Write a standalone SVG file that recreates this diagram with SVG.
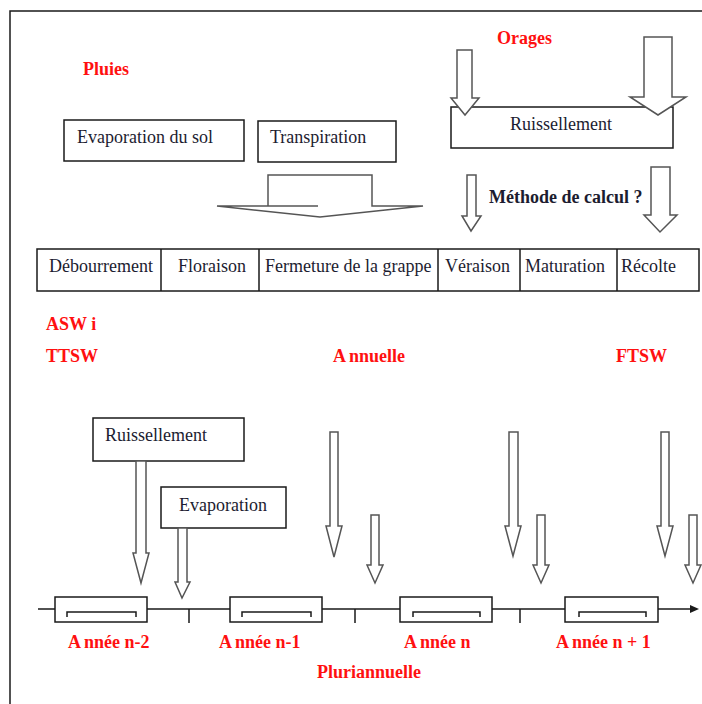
<svg xmlns="http://www.w3.org/2000/svg" width="702" height="704" viewBox="0 0 702 704">
<style>
.box{fill:#fff;stroke:#1a1a1a;stroke-width:1.5}
.arr{fill:#fff;stroke:#555;stroke-width:1.5;stroke-linejoin:miter}
.t{font-family:"Liberation Serif","Times New Roman",serif;font-size:18px;fill:#1c1c30}
.r{font-family:"Liberation Serif","Times New Roman",serif;font-size:18px;font-weight:bold;fill:#ff1010}
.b{font-family:"Liberation Serif","Times New Roman",serif;font-size:18px;font-weight:bold;fill:#1c1c30}
.ln{fill:none;stroke:#1a1a1a;stroke-width:1.5}
</style>
<rect width="702" height="704" fill="#fff"/>
<path class="ln" d="M10,704 V11 H702"/>

<text class="r" x="83" y="75">Pluies</text>
<text class="r" x="497" y="44">Orages</text>

<g id="evap-sol"><rect class="box" x="64" y="120" width="180" height="41"/><text class="t" x="77" y="143">Evaporation du sol</text></g>
<g id="transpiration"><rect class="box" x="258" y="121" width="138" height="41"/><text class="t" x="270" y="143">Transpiration</text></g>
<g id="ruissellement-top"><rect class="box" x="451" y="107" width="222" height="41"/><text class="t" x="561" y="130" text-anchor="middle">Ruissellement</text></g>

<text class="b" x="489" y="203">Méthode de calcul ?</text>

<g id="phenologie">
<rect class="box" x="37" y="249" width="662" height="42"/>
<path class="ln" d="M161,249V291M259,249V291M438,249V291M520,249V291M617,249V291"/>
<text class="t" x="49" y="272">Débourrement</text>
<text class="t" x="178" y="272">Floraison</text>
<text class="t" x="265" y="272">Fermeture de la grappe</text>
<text class="t" x="445" y="272">Véraison</text>
<text class="t" x="525" y="272">Maturation</text>
<text class="t" x="621" y="272">Récolte</text>
</g>

<text class="r" x="46" y="330">ASW i</text>
<text class="r" x="46" y="362">TTSW</text>
<text class="r" x="333" y="362">A<tspan dx="3">nnuelle</tspan></text>
<text class="r" x="616" y="362">FTSW</text>

<g id="ruissellement-bas"><rect class="box" x="93" y="418" width="151" height="43"/><text class="t" x="105" y="441">Ruissellement</text></g>
<g id="evaporation-bas"><rect class="box" x="161" y="487" width="125" height="41"/><text class="t" x="179" y="511">Evaporation</text></g>

<g id="connectors">
<polygon class="arr" points="457,50 472,50 472,98 479,98 465,115 451,98 457,98"/>
<polygon class="arr" points="644,37 672,37 672,97 686,97 658,115 630,97 644,97"/>
<polygon class="arr" points="318,206 268,206 268,175 372,175 372,206 423,206 320,217 217,206 268,206"/>
<polygon class="arr" points="467,175 476,175 476,216 481,216 471,231 462,216 467,216"/>
<polygon class="arr" points="651,167 670,167 670,215 677,215 660,232 644,215 651,215"/>
<polygon class="arr" points="136,461 146,461 146,553 149,553 141,583 133,553 136,553"/>
<polygon class="arr" points="178,528 187,528 187,582 190,582 182,598 175,582 178,582"/>
<polygon class="arr" points="330,432 338,432 338,526 342,526 334,557 326,526 330,526"/>
<polygon class="arr" points="371,515 379,515 379,565 383,565 375,583 367,565 371,565"/>
<polygon class="arr" points="509,432 518,432 518,526 521,526 513,556 505,526 509,526"/>
<polygon class="arr" points="537,515 545,515 545,565 549,565 541,583 533,565 537,565"/>
<polygon class="arr" points="661,432 669,432 669,526 673,526 665,556 657,526 661,526"/>
<polygon class="arr" points="689,515 697,515 697,565 701,565 693,583 685,565 689,565"/>
</g>

<g id="timeline">
<path class="ln" d="M38,609H691M189,609V623M355,609V623M520,609V623"/>
<polygon points="690,605 699,609 690,613" fill="#1a1a1a"/>
<rect class="box" x="55" y="597" width="92" height="25"/>
<rect class="box" x="230" y="597" width="92" height="25"/>
<rect class="box" x="400" y="597" width="92" height="25"/>
<rect class="box" x="565" y="597" width="93" height="25"/>
<path class="ln" d="M67,617V612H136V617M242,617V612H311V617M413,617V612H480V617M579,617V612H646V617"/>
</g>

<text class="r" x="68" y="648">A<tspan dx="3">nnée n-2</tspan></text>
<text class="r" x="219" y="648">A<tspan dx="3">nnée n-1</tspan></text>
<text class="r" x="404" y="648">A<tspan dx="3">nnée n</tspan></text>
<text class="r" x="556" y="648">A<tspan dx="3">nnée n + 1</tspan></text>
<text class="r" x="317" y="678">Pluriannuelle</text>
</svg>
